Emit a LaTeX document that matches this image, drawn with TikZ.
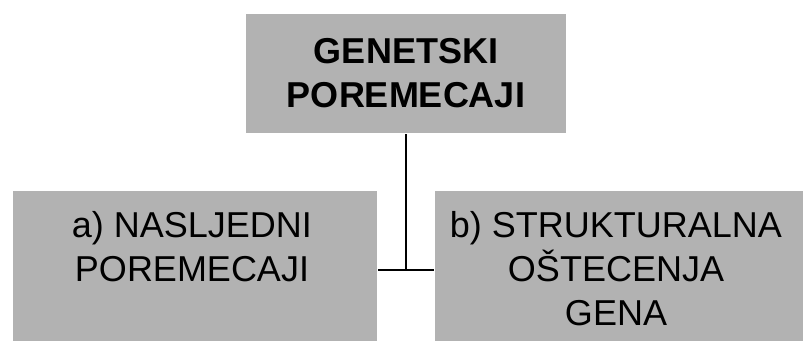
\documentclass[tikz,border=0pt]{standalone}
\usepackage{fontspec}
\setmainfont{Liberation Sans}
\usepackage{tikz}
\usetikzlibrary{calc}
\definecolor{sivo}{RGB}{178,178,178}
\tikzstyle{siva} = [rectangle, fill=sivo, draw=none, inner sep=0pt]
\tikzstyle{natpis} = [inner sep=0pt, align=center, font=\fontsize{36}{44}\selectfont]

\begin{document}
\begin{tikzpicture}[x=1pt, y=-1pt, line width=2pt]
                \useasboundingbox (0,0) rectangle (803,340);

                \node [siva, natpis, font=\fontsize{36}{44}\selectfont\bfseries, minimum width=320pt, minimum height=119pt, anchor=north west] (genet) at (245,13) {GENETSKI\\POREMECAJI};

                \node [siva, minimum width=364pt, minimum height=150pt, anchor=north west] (nasl) at (12,190) {};
                \node [natpis, anchor=base] (naslT) at (192,281) {a) NASLJEDNI\\POREMECAJI};

                \node [siva, minimum width=369pt, minimum height=150pt, anchor=north west] (strukt) at (434,190) {};
                \node [natpis, anchor=base] (struktT) at (616,325) {b) STRUKTURALNA\\OŠTECENJA\\GENA};

                \coordinate (spoj) at (genet.south |- 0,270);
                \draw (genet.south) -- (spoj);
                \draw (nasl.east |- spoj) -- (strukt.west |- spoj);
            \end{tikzpicture}
\end{document}
